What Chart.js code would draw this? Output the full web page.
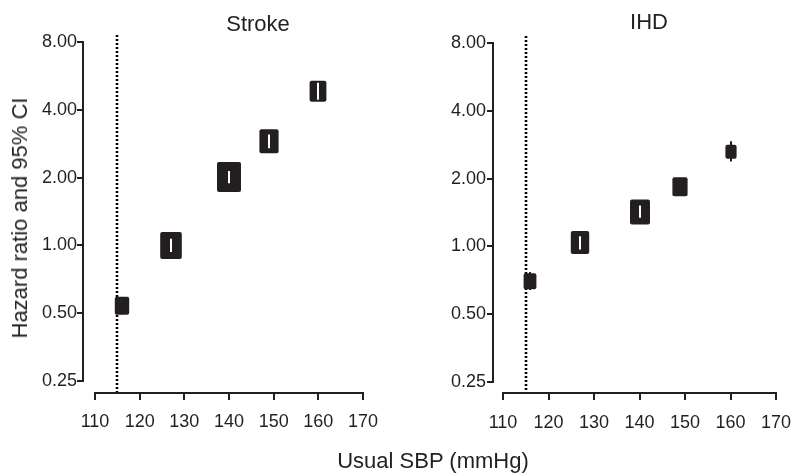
<!DOCTYPE html>
<html>
<head>
<meta charset="utf-8">
<script src="https://cdn.jsdelivr.net/npm/chart.js@4.4.1/dist/chart.umd.min.js"></script>
<style>
  body { margin: 0; background: #fff; font-family: "Liberation Sans", Arial, sans-serif; }
  #wrap { position: relative; width: 794px; height: 475px; overflow: hidden; }
  .panel { position: absolute; top: 0; width: 397px; height: 475px; }
  .lbl { position: absolute; color: #231f20; font-size: 22px; line-height: 1; white-space: nowrap; transform: translate(-50%, -50%); }
</style>
</head>
<body>
<div id="wrap">
  <div class="panel" style="left:0"><canvas id="strokeChart"></canvas></div>
  <div class="panel" style="left:397px"><canvas id="ihdChart"></canvas></div>
  <div class="lbl" style="left:258px; top:24px">Stroke</div>
  <div class="lbl" style="left:649px; top:22px">IHD</div>
  <div class="lbl" style="left:20px; top:218px; transform: translate(-50%, -50%) rotate(-90deg)">Hazard ratio and 95% CI</div>
  <div class="lbl" style="left:433px; top:461px">Usual SBP (mmHg)</div>
</div>
<script>
// axis ticks
const sbpTicks = [110, 120, 130, 140, 150, 160, 170];
const hrTicks = [0.25, 0.5, 1, 2, 4, 8];
const refSBP = 115;

// Stroke
const strokeSBP = [116, 127, 140, 149, 160];
const strokeHR  = [0.54, 1.00, 2.01, 2.90, 4.83];
const strokeLo  = [0.495, 0.934, 1.89, 2.70, 4.43];
const strokeHi  = [0.59, 1.07, 2.14, 3.11, 5.27];

// IHD
const ihdSBP = [116, 127, 140, 149, 160];
const ihdHR  = [0.70, 1.04, 1.42, 1.84, 2.63];
const ihdLo  = [0.64, 0.97, 1.34, 1.68, 2.38];
const ihdHi  = [0.77, 1.11, 1.52, 2.01, 2.93];

// marker box heights (px), width is 0.8 of height
const strokeBox = [18, 27, 30, 24, 21];
const ihdBox    = [16, 23, 25, 19, 14];

const ink = '#231f20';

// offset axes, reference line and CI boxes
const forestPlugin = {
    id: 'forest',
    beforeDatasetsDraw(chart) {
        const { ctx, chartArea, scales } = chart;
        const o = chart.options.plugins.forest;
        const xAxisY = Math.round(chartArea.bottom + o.gapX);
        const refX = Math.round(scales.x.getPixelForValue(refSBP));
        ctx.save();
        ctx.strokeStyle = '#000';
        ctx.lineWidth = 2.6;
        ctx.setLineDash([2, 2]);
        ctx.beginPath();
        ctx.moveTo(refX, Math.round(chartArea.top) - 7);
        ctx.lineTo(refX, xAxisY + 2);
        ctx.stroke();
        ctx.restore();
    },
    afterDatasetsDraw(chart) {
        const { ctx, chartArea, scales } = chart;
        const o = chart.options.plugins.forest;
        const yAxisX = Math.round(chartArea.left - o.gapY);
        const xAxisY = Math.round(chartArea.bottom + o.gapX);
        ctx.save();
        ctx.strokeStyle = ink;
        ctx.lineWidth = 2;
        ctx.lineCap = 'butt';
        // y axis
        ctx.beginPath();
        ctx.moveTo(yAxisX, Math.round(scales.y.getPixelForValue(hrTicks[0])) + 1);
        ctx.lineTo(yAxisX, Math.round(scales.y.getPixelForValue(hrTicks[hrTicks.length - 1])) - 1);
        hrTicks.forEach(v => {
            const py = Math.round(scales.y.getPixelForValue(v));
            ctx.moveTo(yAxisX, py);
            ctx.lineTo(yAxisX - 6, py);
        });
        ctx.stroke();
        // x axis
        ctx.beginPath();
        ctx.moveTo(Math.round(scales.x.getPixelForValue(sbpTicks[0])) - 1, xAxisY);
        ctx.lineTo(Math.round(scales.x.getPixelForValue(sbpTicks[sbpTicks.length - 1])) + 1, xAxisY);
        sbpTicks.forEach(v => {
            const px = Math.round(scales.x.getPixelForValue(v));
            ctx.moveTo(px, xAxisY);
            ctx.lineTo(px, xAxisY + 7);
        });
        ctx.stroke();

        // markers
        const meta = chart.getDatasetMeta(0);
        meta.data.forEach((pt, i) => {
            const h = o.box[i], w = h * 0.8;
            const cx = Math.round(pt.x);
            const yLo = scales.y.getPixelForValue(o.lo[i]);
            const yHi = scales.y.getPixelForValue(o.hi[i]);
            const inside = (yLo - yHi) < h - 2;
            if (!inside) {
                ctx.strokeStyle = ink;
                ctx.lineWidth = 2;
                ctx.beginPath();
                ctx.moveTo(cx, yLo);
                ctx.lineTo(cx, yHi);
                ctx.stroke();
            }
            ctx.fillStyle = ink;
            ctx.beginPath();
            ctx.roundRect(cx - w / 2, pt.y - h / 2, w, h, 2);
            ctx.fill();
            if (inside) {
                ctx.strokeStyle = '#fff';
                ctx.lineWidth = 2;
                ctx.beginPath();
                ctx.moveTo(cx, yLo);
                ctx.lineTo(cx, yHi);
                ctx.stroke();
            }
        });
        ctx.restore();
    }
};

function makePanel(id, sbp, hr, lo, hi, box, L) {
    const ctx = document.getElementById(id);
    return new Chart(ctx, {
        type: 'scatter',
        data: {
            datasets: [{
                data: sbp.map((x, i) => ({ x: x, y: hr[i] })),
                pointRadius: 0,
                pointHoverRadius: 0,
                showLine: false
            }]
        },
        options: {
            responsive: true, maintainAspectRatio: false,
            animation: false,
            events: [],
            layout: { padding: { top: L.top, right: L.right, left: 0, bottom: 0 } },
            scales: {
                x: {
                    type: 'linear', min: 110, max: 170,
                    afterBuildTicks: s => { s.ticks = sbpTicks.map(v => ({ value: v })); },
                    afterFit: s => { s.height = L.xh; },
                    // invisible tick length just pushes the labels down
                    grid: { display: false, drawTicks: true, tickLength: L.xpad },
                    border: { display: false },
                    ticks: { color: ink, font: { size: 18, family: 'Liberation Sans' }, padding: 0, autoSkip: false, maxRotation: 0 }
                },
                y: {
                    type: 'logarithmic', min: 0.25, max: 8,
                    afterBuildTicks: s => { s.ticks = hrTicks.map(v => ({ value: v })); },
                    afterFit: s => { s.width = L.yw; },
                    grid: { display: false, drawTicks: false },
                    border: { display: false },
                    ticks: { color: ink, font: { size: 18, family: 'Liberation Sans' }, padding: L.ypad, callback: v => Number(v).toFixed(2) }
                }
            },
            plugins: {
                legend: { display: false },
                tooltip: { enabled: false },
                forest: { lo: lo, hi: hi, box: box, gapX: L.gapX, gapY: L.gapY }
            }
        },
        plugins: [forestPlugin]
    });
}

makePanel('strokeChart', strokeSBP, strokeHR, strokeLo, strokeHi, strokeBox,
    { top: 42, right: 34, xh: 94, yw: 95, xpad: 30, ypad: 18, gapX: 12, gapY: 12 });
makePanel('ihdChart', ihdSBP, ihdHR, ihdLo, ihdHi, ihdBox,
    { top: 43, right: 18, xh: 93, yw: 106, xpad: 30, ypad: 17, gapX: 11, gapY: 10 });
</script>
</body>
</html>
